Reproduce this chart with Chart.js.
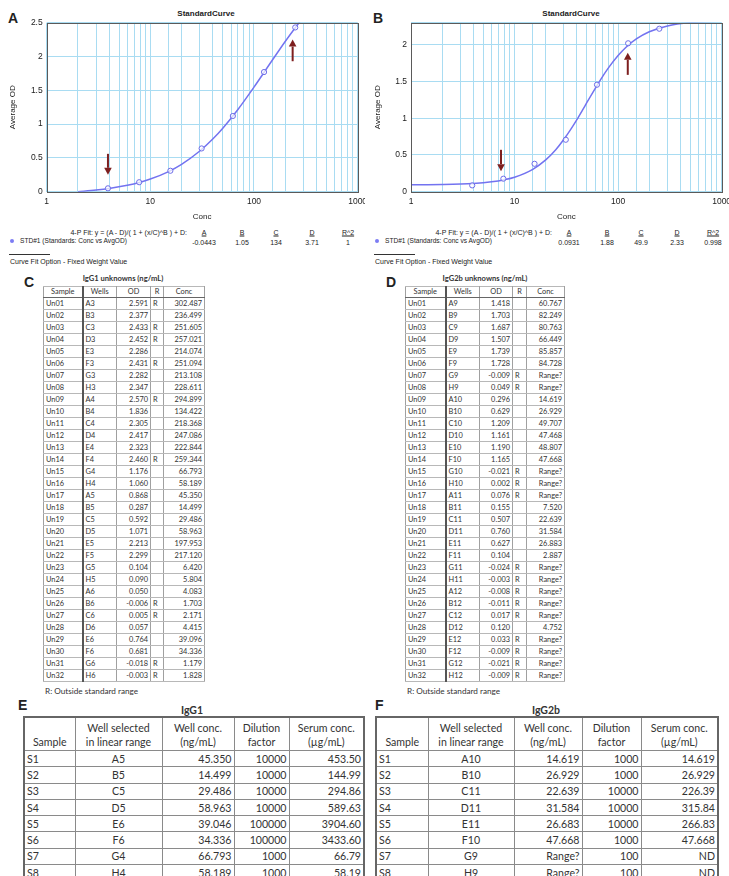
<!DOCTYPE html>
<html><head><meta charset="utf-8">
<script src="https://cdn.jsdelivr.net/npm/chart.js@4.4.1/dist/chart.umd.min.js"></script>
<style>
body{margin:0;width:729px;height:876px;position:relative;background:#fff;overflow:hidden;font-family:"Liberation Sans",Arial,sans-serif;color:#222}
.abs{position:absolute;white-space:nowrap;line-height:1}
.panel{font-weight:bold;font-size:14px}
.ctitle{font-weight:bold;font-size:8px;transform:translate(-50%,-50%)}
.fit{font-size:7px;color:#222}
.fit.sm{font-size:6.6px}
.ctr{transform:translate(-50%,-50%)}
.rgt{transform:translate(-100%,-50%)}
.lft{transform:translate(0,-50%)}
.ul{text-decoration:underline}
.dot{position:absolute;width:4px;height:4px;border-radius:50%;background:#7c7cf4}
.hline{position:absolute;height:1px;background:#333}
.wrap{position:absolute;overflow:hidden}
table{border-collapse:collapse;table-layout:fixed;font-family:Lato,"Open Sans",sans-serif;color:#333}
table.small{font-size:7.4px;border:1.5px solid #666}
table.small td{padding:0 2px;height:11px;line-height:10px;border-top:1px solid #b8b8b8;border-bottom:1px solid #b8b8b8;border-left:1px solid #a0a0a0;border-right:1px solid #a0a0a0;overflow:hidden;white-space:nowrap}
table.small tr.hd td{text-align:center;height:10px;border-bottom:1.5px solid #666}
table.small td.c0{border-right:2px solid #555}
.tt{font-family:Lato,"Open Sans",sans-serif;font-weight:bold;color:#333}
table.big{font-size:10.6px;border:2px solid #666}
table.big td{padding:0 2px;height:15.3px;line-height:14px;border:1.4px solid #8a8a8a;white-space:nowrap;overflow:hidden}
table.big tr.hd td{text-align:center;height:31px;line-height:14px;vertical-align:bottom;padding-bottom:1px}
.r{text-align:right}.c{text-align:center}.l{text-align:left}
.note{font-family:Lato,"Open Sans",sans-serif;font-size:8.2px;color:#333}
</style></head>
<body>
<!-- Panel labels -->
<div class="abs panel" style="left:8px;top:11px">A</div>
<div class="abs panel" style="left:373px;top:11px">B</div>
<div class="abs ctitle" style="left:206px;top:14px">StandardCurve</div>
<div class="abs ctitle" style="left:571px;top:14px">StandardCurve</div>

<div class="wrap" style="left:0;top:0;width:365px;height:226px"><canvas id="chartA" width="372" height="226"></canvas></div>
<div class="wrap" style="left:365px;top:0;width:364px;height:226px"><canvas id="chartB" width="371" height="226"></canvas></div>

<div id="fitA"></div>
<div id="fitB"></div>

<div class="abs panel" style="left:24px;top:275px">C</div>
<div class="abs panel" style="left:386px;top:275px">D</div>
<div class="abs tt ctr" style="left:123px;top:279px;font-size:7.6px">IgG1 unknowns (ng/mL)</div>
<div class="abs tt ctr" style="left:485px;top:279px;font-size:7.6px">IgG2b unknowns (ng/mL)</div>
<div id="tabC" class="abs" style="left:43px;top:286px"></div>
<div id="tabD" class="abs" style="left:405px;top:286px"></div>
<div class="abs note lft" style="left:45px;top:691px">R: Outside standard range</div>
<div class="abs note lft" style="left:407px;top:691px">R: Outside standard range</div>

<div class="abs panel" style="left:18px;top:698px">E</div>
<div class="abs panel" style="left:375px;top:698px">F</div>
<div class="abs tt ctr" style="left:192px;top:710px;font-size:10.5px">IgG1</div>
<div class="abs tt ctr" style="left:546px;top:710px;font-size:10.5px">IgG2b</div>
<div id="tabE" class="abs" style="left:23px;top:716px"></div>
<div id="tabF" class="abs" style="left:375px;top:716px"></div>

<script>
// ---------- Standard curve data ----------
const standardsConcA = [3.9, 7.8, 15.6, 31.25, 62.5, 125, 250];
const standardsODA   = [0.05, 0.14, 0.31, 0.64, 1.12, 1.77, 2.43];
const curveConcA = [2, 3, 4, 6, 8, 10, 15, 20, 30, 40, 50, 70, 100, 150, 200, 250, 280];
const curveODA   = [0.0, 0.024, 0.047, 0.094, 0.141, 0.187, 0.298, 0.404, 0.602, 0.779, 0.940, 1.217, 1.547, 1.944, 2.222, 2.426, 2.525];
const arrowConcA = [3.9, 236];
const arrowFromA = [0.56, 1.93];
const arrowToA   = [0.25, 2.25];

const standardsConcB = [3.9, 7.8, 15.6, 31.25, 62.5, 125, 250];
const standardsODB   = [0.086, 0.177, 0.38, 0.707, 1.456, 2.02, 2.218];
const curveConcB = [1, 2, 4, 6, 8, 10, 15, 20, 25, 30, 35, 40, 45, 50, 60, 70, 80, 100, 120, 150, 200, 300, 500, 1000];
const curveODB   = [0.095, 0.098, 0.112, 0.134, 0.163, 0.197, 0.305, 0.433, 0.572, 0.714, 0.852, 0.982, 1.103, 1.214, 1.403, 1.556, 1.678, 1.853, 1.970, 2.079, 2.177, 2.256, 2.301, 2.322];
const arrowConcB = [7.4, 124];
const arrowFromB = [0.57, 1.59];
const arrowToB   = [0.28, 1.89];

const xTickValues = [1, 10, 100, 1000];
const fitHeaders = ["A", "B", "C", "D", "R^2"];
const fitParamsA = ["-0.0443", "1.05", "134", "3.71", "1"];
const fitParamsB = ["0.0931", "1.88", "49.9", "2.33", "0.998"];

// ---------- Table C / D data ----------
const sampleIds = ["Un01","Un02","Un03","Un04","Un05","Un06","Un07","Un08","Un09","Un10","Un11","Un12","Un13","Un14","Un15","Un16","Un17","Un18","Un19","Un20","Un21","Un22","Un23","Un24","Un25","Un26","Un27","Un28","Un29","Un30","Un31","Un32"];
const igg1Wells = ["A3","B3","C3","D3","E3","F3","G3","H3","A4","B4","C4","D4","E4","F4","G4","H4","A5","B5","C5","D5","E5","F5","G5","H5","A6","B6","C6","D6","E6","F6","G6","H6"];
const igg1OD = ["2.591","2.377","2.433","2.452","2.286","2.431","2.282","2.347","2.570","1.836","2.305","2.417","2.323","2.460","1.176","1.060","0.868","0.287","0.592","1.071","2.213","2.299","0.104","0.090","0.050","-0.006","0.005","0.057","0.764","0.681","-0.018","-0.003"];
const igg1Flag = ["R","","R","R","","R","","","R","","","","","R","","","","","","","","","","","","R","R","","","","R","R"];
const igg1Conc = ["302.487","236.499","251.605","257.021","214.074","251.094","213.108","228.611","294.899","134.422","218.368","247.086","222.844","259.344","66.793","58.189","45.350","14.499","29.486","58.963","197.953","217.120","6.420","5.804","4.083","1.703","2.171","4.415","39.096","34.336","1.179","1.828"];

const igg2bWells = ["A9","B9","C9","D9","E9","F9","G9","H9","A10","B10","C10","D10","E10","F10","G10","H10","A11","B11","C11","D11","E11","F11","G11","H11","A12","B12","C12","D12","E12","F12","G12","H12"];
const igg2bOD = ["1.418","1.703","1.687","1.507","1.739","1.728","-0.009","0.049","0.296","0.629","1.209","1.161","1.190","1.165","-0.021","0.002","0.076","0.155","0.507","0.760","0.627","0.104","-0.024","-0.003","-0.008","-0.011","0.017","0.120","0.033","-0.009","-0.021","-0.009"];
const igg2bFlag = ["","","","","","","R","R","","","","","","","R","R","R","","","","","","R","R","R","R","R","","R","R","R","R"];
const igg2bConc = ["60.767","82.249","80.763","66.449","85.857","84.728","Range?","Range?","14.619","26.929","49.707","47.468","48.807","47.668","Range?","Range?","Range?","7.520","22.639","31.584","26.883","2.887","Range?","Range?","Range?","Range?","Range?","4.752","Range?","Range?","Range?","Range?"];

// ---------- Table E / F data ----------
const serumSamples = ["S1","S2","S3","S4","S5","S6","S7","S8"];
const igg1SelWell = ["A5","B5","C5","D5","E6","F6","G4","H4"];
const igg1WellConc = ["45.350","14.499","29.486","58.963","39.046","34.336","66.793","58.189"];
const igg1Dilution = ["10000","10000","10000","10000","100000","100000","1000","1000"];
const igg1Serum = ["453.50","144.99","294.86","589.63","3904.60","3433.60","66.79","58.19"];
const igg2bSelWell = ["A10","B10","C11","D11","E11","F10","G9","H9"];
const igg2bWellConc = ["14.619","26.929","22.639","31.584","26.683","47.668","Range?","Range?"];
const igg2bDilution = ["1000","1000","10000","10000","10000","1000","100","100"];
const igg2bSerum = ["14.619","26.929","226.39","315.84","266.83","47.668","ND","ND"];

// ---------- helpers ----------
const arrowPlugin = {
  id: 'arrows',
  afterDatasetsDraw(chart, args, opts) {
    const {ctx, scales: {x, y}} = chart;
    ctx.save();
    ctx.strokeStyle = '#7d1f1f'; ctx.fillStyle = '#7d1f1f'; ctx.lineWidth = 2;
    opts.conc.forEach((c, i) => {
      const px = x.getPixelForValue(c);
      const p0 = y.getPixelForValue(opts.from[i]);
      const p1 = y.getPixelForValue(opts.to[i]);
      const dir = p1 > p0 ? 1 : -1;
      const head = 7;
      ctx.beginPath(); ctx.moveTo(px, p0); ctx.lineTo(px, p1 - dir * head); ctx.stroke();
      ctx.beginPath(); ctx.moveTo(px, p1); ctx.lineTo(px - 3.8, p1 - dir * head); ctx.lineTo(px + 3.8, p1 - dir * head); ctx.closePath(); ctx.fill();
    });
    ctx.restore();
  }
};
const framePlugin = {
  id: 'frame',
  afterDraw(chart) {
    const {ctx, chartArea: a} = chart;
    ctx.save(); ctx.strokeStyle = '#5a5a5a'; ctx.lineWidth = 1;
    ctx.strokeRect(Math.round(a.left) + 0.5, Math.round(a.top) + 0.5, Math.round(a.right - a.left), Math.round(a.bottom - a.top));
    ctx.restore();
  }
};

function makeChart(id, conc, od, cConc, cOD, yMax, aConc, aFrom, aTo, yAxisW, padRight) {
  const pts = conc.map((c, i) => ({x: c, y: od[i]}));
  const curve = cConc.map((c, i) => ({x: c, y: cOD[i]}));
  return new Chart(document.getElementById(id), {
    type: 'scatter',
    data: {datasets: [
      {data: curve, showLine: true, borderColor: '#7373f0', borderWidth: 1.5, pointRadius: 0, cubicInterpolationMode: 'monotone', order: 2},
      {data: pts, showLine: false, pointRadius: 2.6, borderWidth: 1, borderColor: '#6c6ce8', backgroundColor: 'rgba(255,255,255,0.7)', order: 1}
    ]},
    options: {
      responsive: false, animation: false, devicePixelRatio: 1,
      layout: {padding: {left: 0, top: 22.7, right: padRight, bottom: 0}},
      plugins: {legend: {display: false}, tooltip: {enabled: false}, arrows: {conc: aConc, from: aFrom, to: aTo}},
      scales: {
        x: {type: 'logarithmic', min: 1, max: 1000,
            grid: {color: '#a9dcf2', drawTicks: false, lineWidth: 1},
            border: {display: false},
            ticks: {autoSkip: false, maxRotation: 0, padding: 4.9, color: '#222',
                    font: {family: 'Liberation Sans', size: 8.5},
                    callback: (v) => xTickValues.includes(v) ? String(v) : ''},
            title: {display: true, text: 'Conc', color: '#222', font: {family: 'Liberation Sans', size: 8}, padding: {top: 0, bottom: 4.2}},
            afterFit: (s) => { s.height = 226 - 191.7; }},
        y: {type: 'linear', min: 0, max: yMax,
            grid: {color: '#a9dcf2', drawTicks: false, lineWidth: 1},
            border: {display: false},
            ticks: {stepSize: 0.5, padding: 4, color: '#222', font: {family: 'Liberation Sans', size: 8.5},
                    callback: (v) => Math.abs(v * 2 - Math.round(v * 2)) < 1e-6 ? String(v) : ''},
            title: {display: true, text: 'Average OD', color: '#222', font: {family: 'Liberation Sans', size: 8}, padding: {top: 8.2, bottom: 0}},
            afterFit: (s) => { s.width = yAxisW; }}
      }
    },
    plugins: [arrowPlugin, framePlugin]
  });
}
makeChart('chartA', standardsConcA, standardsODA, curveConcA, curveODA, 2.5, arrowConcA, arrowFromA, arrowToA, 46.7, 13.7);
makeChart('chartB', standardsConcB, standardsODB, curveConcB, curveODB, 2.3, arrowConcB, arrowFromB, arrowToB, 46, 14);

function fitBlock(el, dx, params) {
  const colX = [204, 242, 276, 312, 348];
  let h = '';
  h += `<div class="abs fit rgt" style="left:${187 + dx}px;top:232px">4-P Fit:  y = (A - D)/( 1 + (x/C)^B ) + D:</div>`;
  fitHeaders.forEach((t, i) => { h += `<div class="abs fit ctr ul" style="left:${colX[i] + dx}px;top:232px">${t}</div>`; });
  h += `<div class="dot" style="left:${10 + dx}px;top:239px"></div>`;
  h += `<div class="abs fit sm lft" style="left:${20 + dx}px;top:241px">STD#1 (Standards: Conc vs AvgOD)</div>`;
  params.forEach((t, i) => { h += `<div class="abs fit ctr" style="left:${colX[i] + dx}px;top:242px">${t}</div>`; });
  h += `<div class="hline" style="left:${9 + dx}px;top:254px;width:41px"></div>`;
  h += `<div class="abs fit lft" style="left:${10 + dx}px;top:261px">Curve Fit Option - Fixed Weight Value</div>`;
  el.innerHTML = h;
}
fitBlock(document.getElementById('fitA'), 0, fitParamsA);
fitBlock(document.getElementById('fitB'), 365, fitParamsB);

function smallTable(el, widths, wells, od, flag, conc) {
  let h = '<table class="small"><colgroup>' + widths.map(w => `<col style="width:${w}px">`).join('') + '</colgroup>';
  h += '<tr class="hd"><td class="c0">Sample</td><td>Wells</td><td>OD</td><td>R</td><td>Conc</td></tr>';
  sampleIds.forEach((s, i) => {
    h += `<tr><td class="c0 l">${s}</td><td class="l">${wells[i]}</td><td class="r">${od[i]}</td><td class="l">${flag[i]}</td><td class="r">${conc[i]}</td></tr>`;
  });
  el.innerHTML = h + '</table>';
}
smallTable(document.getElementById('tabC'), [39, 34, 34, 13, 41], igg1Wells, igg1OD, igg1Flag, igg1Conc);
smallTable(document.getElementById('tabD'), [40, 34, 33, 14, 38], igg2bWells, igg2bOD, igg2bFlag, igg2bConc);

function bigTable(el, widths, sel, wc, dil, ser) {
  let h = '<table class="big"><colgroup>' + widths.map(w => `<col style="width:${w}px">`).join('') + '</colgroup>';
  h += '<tr class="hd"><td>Sample</td><td>Well selected<br>in linear range</td><td>Well conc.<br>(ng/mL)</td><td>Dilution<br>factor</td><td>Serum conc.<br>(\u00b5g/mL)</td></tr>';
  serumSamples.forEach((s, i) => {
    h += `<tr><td class="l">${s}</td><td class="c">${sel[i]}</td><td class="r">${wc[i]}</td><td class="r">${dil[i]}</td><td class="r">${ser[i]}</td></tr>`;
  });
  el.innerHTML = h + '</table>';
}
bigTable(document.getElementById('tabE'), [51, 87, 72, 55, 75], igg1SelWell, igg1WellConc, igg1Dilution, igg1Serum);
bigTable(document.getElementById('tabF'), [52, 86, 68, 59, 77], igg2bSelWell, igg2bWellConc, igg2bDilution, igg2bSerum);
</script>
</body></html>
